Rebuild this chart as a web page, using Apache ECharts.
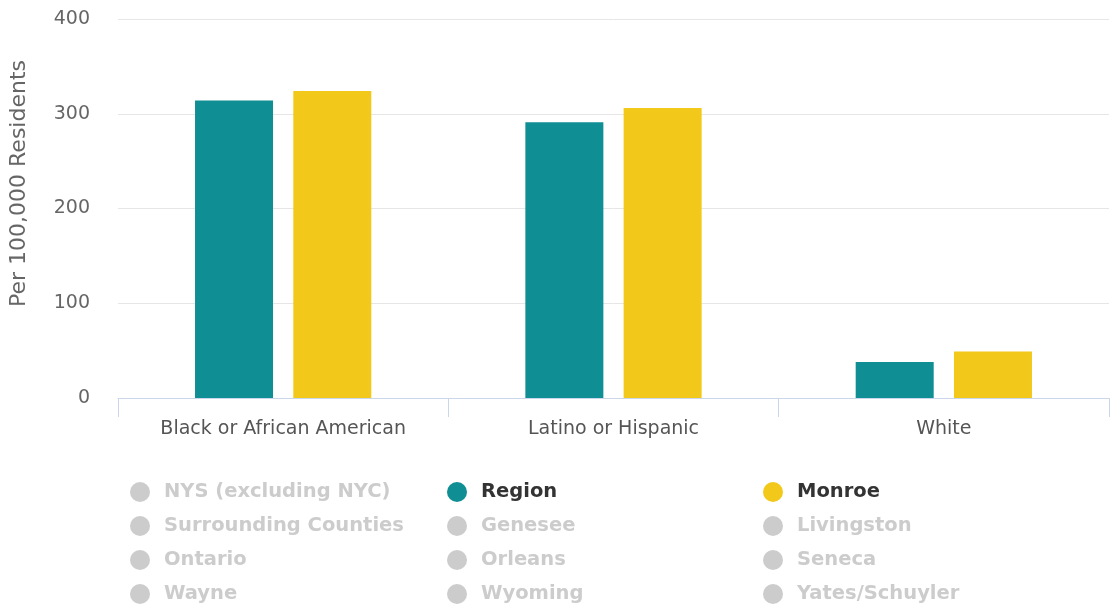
<!DOCTYPE html>
<html>
<head>
<meta charset="utf-8">
<script src="https://cdn.jsdelivr.net/npm/echarts@6/dist/echarts.min.js"></script>
<style>
  html, body { margin: 0; padding: 0; background: #fff; }
  #chart { width: 1110px; height: 610px; }
</style>
</head>
<body>
<div id="chart"></div>
<script>
// Chart data
var categories = ['Black or African American', 'Latino or Hispanic', 'White'];
var regionValues = [314, 291, 38];
var monroeValues = [324, 306, 49];

// Legend columns (read top to bottom)
var legendCol1 = ['NYS (excluding NYC)', 'Surrounding Counties', 'Ontario', 'Wayne'];
var legendCol2 = ['Region', 'Genesee', 'Orleans', 'Wyoming'];
var legendCol3 = ['Monroe', 'Livingston', 'Seneca', 'Yates/Schuyler'];
var shownSeries = ['Region', 'Monroe'];

var seriesColors = {
    'Region': '#0f8e94',
    'Monroe': '#f2c81b'
};
var seriesValues = {
    'Region': regionValues,
    'Monroe': monroeValues
};

var chart = echarts.init(document.getElementById('chart'));

var allNames = legendCol1.concat(legendCol2, legendCol3);
var selected = {};
allNames.forEach(function (n) {
    selected[n] = shownSeries.indexOf(n) >= 0;
});

// Series in legend order, only two are switched on
var orderedNames = [];
for (var r = 0; r < 4; r++) {
    orderedNames.push(legendCol1[r], legendCol2[r], legendCol3[r]);
}
var series = orderedNames.map(function (n) {
    return {
        name: n,
        type: 'bar',
        barWidth: 78,
        barGap: '26%',
        itemStyle: { color: seriesColors[n] || '#999' },
        data: seriesValues[n] || []
    };
});

function makeLegend(names, left) {
    return {
        orient: 'vertical',
        left: left,
        top: 482,
        padding: 0,
        data: names,
        selected: selected,
        icon: 'circle',
        itemWidth: 38,
        itemHeight: 20,
        itemGap: 14,
        inactiveColor: '#cccccc',
        textStyle: {
            fontFamily: 'DejaVu Sans',
            fontSize: 19.5,
            fontWeight: 'bold',
            color: '#333333',
            lineHeight: 20
        }
    };
}

chart.setOption({
    animation: false,
    textStyle: { fontFamily: 'DejaVu Sans' },
    grid: { left: 118, right: 1, top: 19, bottom: 212 },
    legend: [
        makeLegend(legendCol1, 130),
        makeLegend(legendCol2, 447),
        makeLegend(legendCol3, 763)
    ],
    xAxis: {
        type: 'category',
        data: categories,
        axisLine: { lineStyle: { color: '#ccd6eb', width: 1 } },
        axisTick: { show: true, length: 19, lineStyle: { color: '#ccd6eb' } },
        axisLabel: { color: '#555555', fontSize: 19, margin: 22 }
    },
    yAxis: {
        type: 'value',
        min: 0,
        max: 400,
        interval: 100,
        name: 'Per 100,000 Residents',
        nameLocation: 'middle',
        nameGap: 88,
        nameTextStyle: { color: '#666666', fontSize: 22, padding: [0, 0, 0, 50] },
        axisLine: { show: false },
        axisTick: { show: false },
        axisLabel: { color: '#666666', fontSize: 19, margin: 28 },
        splitLine: { lineStyle: { color: '#e6e6e6' } }
    },
    series: series
});
</script>
</body>
</html>
